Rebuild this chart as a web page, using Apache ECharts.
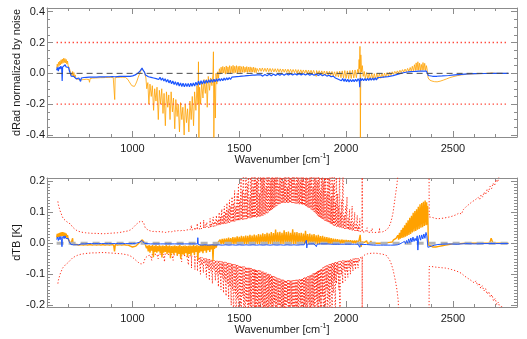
<!DOCTYPE html>
<html>
<head>
<meta charset="utf-8">
<script src="https://cdn.jsdelivr.net/npm/echarts@6/dist/echarts.min.js"></script>
<style>
  html, body { margin: 0; padding: 0; background: #ffffff; }
  #chart { width: 527px; height: 339px; }
</style>
</head>
<body>
<div id="chart"></div>
<script>
// ---- tick positions and labels ----
const wnMajorTicks = [1000, 1500, 2000, 2500];
const wnMinorTicks = [600, 700, 800, 900, 1000, 1100, 1200, 1300, 1400, 1500, 1600, 1700, 1800, 1900, 2000, 2100, 2200, 2300, 2400, 2500, 2600, 2700, 2800];
const dradMajorTicks = [-0.4, -0.2, 0.0, 0.2, 0.4];
const dradMinorTicks = [-0.4, -0.35, -0.3, -0.25, -0.2, -0.15, -0.1, -0.05, 0, 0.05, 0.1, 0.15, 0.2, 0.25, 0.3, 0.35, 0.4];
const dtbMajorTicks = [-0.2, -0.1, 0.0, 0.1, 0.2];
const dtbMinorTicks = [-0.2, -0.19, -0.18, -0.17, -0.16, -0.15, -0.14, -0.13, -0.12, -0.11, -0.1, -0.09, -0.08, -0.07, -0.06, -0.05, -0.04, -0.03, -0.02, -0.01, 0,
  0.01, 0.02, 0.03, 0.04, 0.05, 0.06, 0.07, 0.08, 0.09, 0.1, 0.11, 0.12, 0.13, 0.14, 0.15, 0.16, 0.17, 0.18, 0.19, 0.2];

// ---- reference levels ----
const noiseLevel = [0.2, -0.2];
const spectralRange = [645, 2760];

// ---- upper panel: radiance difference normalised by noise ----
const dradBlue = [
[645,0.02],[649,0.038],[653,0.015],[657,0.042],[661,0.028],[665,0.046],[669,0.03],[671,-0.05],[673,0.04],[677,0.052],[681,0.04],[685,0.056],[689,0.042],[693,0.052],[697,0.035],[701,0.038],[705,0.015],[709,0.0],[713,-0.018],[717,-0.01],[721,-0.026],[725,-0.02],[729,-0.032],[733,-0.026],[737,-0.036],[741,-0.028],[745,-0.038],[749,-0.03],[753,-0.036],[757,-0.052],[761,-0.03],[767,-0.036],[773,-0.027],[779,-0.034],[785,-0.026],[791,-0.033],[797,-0.025],[803,-0.032],[809,-0.025],[815,-0.031],[821,-0.024],[827,-0.03],[833,-0.024],[839,-0.03],[845,-0.023],[851,-0.029],[857,-0.022],[863,-0.03],[869,-0.023],[875,-0.028],[881,-0.022],[887,-0.029],[893,-0.022],[899,-0.028],[905,-0.021],[911,-0.027],[917,-0.022],[923,-0.028],[929,-0.021],[935,-0.027],[941,-0.02],[947,-0.026],[953,-0.02],[959,-0.026],[965,-0.019],[971,-0.026],[977,-0.02],[983,-0.027],[989,-0.02],[995,-0.025],[1001,-0.016],[1007,-0.02],[1013,-0.01],[1019,-0.012],[1025,0.0],[1031,0.008],[1037,0.018],[1041,0.022],[1045,0.035],[1049,0.022],[1053,0.03],[1057,0.006],[1061,-0.01],[1065,-0.02],[1069,-0.008],[1075,-0.022],[1081,-0.012],[1087,-0.026],[1093,-0.015],[1099,-0.03],[1105,-0.018],[1111,-0.034],[1117,-0.022],[1123,-0.04],[1129,-0.026],[1135,-0.045],[1141,-0.03],[1147,-0.05],[1153,-0.035],[1159,-0.056],[1165,-0.04],[1171,-0.062],[1177,-0.045],[1183,-0.068],[1189,-0.05],[1195,-0.072],[1201,-0.055],[1207,-0.078],[1213,-0.058],[1219,-0.082],[1225,-0.062],[1231,-0.085],[1237,-0.064],[1243,-0.088],[1249,-0.066],[1255,-0.086],[1261,-0.065],[1267,-0.088],[1273,-0.064],[1279,-0.084],[1285,-0.062],[1291,-0.082],[1297,-0.058],[1303,-0.078],[1309,-0.05],[1315,-0.074],[1321,-0.048],[1327,-0.07],[1333,-0.046],[1339,-0.066],[1345,-0.044],[1351,-0.063],[1357,-0.042],[1363,-0.06],[1369,-0.04],[1375,-0.058],[1381,-0.038],[1387,-0.055],[1393,-0.036],[1399,-0.052],[1405,-0.034],[1411,-0.05],[1417,-0.033],[1423,-0.048],[1429,-0.031],[1435,-0.045],[1441,-0.029],[1447,-0.042],[1453,-0.027],[1459,-0.04],[1465,-0.025],[1471,-0.037],[1477,-0.023],[1483,-0.035],[1489,-0.021],[1495,-0.033],[1501,-0.02],[1507,-0.031],[1513,-0.018],[1519,-0.03],[1525,-0.017],[1531,-0.028],[1537,-0.015],[1543,-0.027],[1549,-0.014],[1555,-0.025],[1561,-0.012],[1567,-0.024],[1573,-0.011],[1579,-0.022],[1585,-0.01],[1592,-0.02],[1600,-0.009],[1610,-0.018],[1620,-0.008],[1630,-0.016],[1640,-0.006],[1650,-0.015],[1660,-0.005],[1670,-0.014],[1680,-0.004],[1690,-0.013],[1700,-0.003],[1710,-0.012],[1720,-0.003],[1730,-0.011],[1740,-0.002],[1750,-0.011],[1760,-0.002],[1770,-0.01],[1780,-0.002],[1790,-0.01],[1800,-0.002],[1810,-0.011],[1820,-0.003],[1830,-0.012],[1840,-0.004],[1850,-0.013],[1860,-0.005],[1870,-0.014],[1880,-0.006],[1890,-0.016],[1900,-0.008],[1910,-0.018],[1920,-0.012],[1930,-0.022],[1940,-0.018],[1950,-0.03],[1958,-0.026],[1966,-0.04],[1972,-0.032],[1978,-0.048],[1984,-0.034],[1990,-0.052],[1996,-0.036],[2002,-0.055],[2008,-0.038],[2014,-0.056],[2020,-0.04],[2026,-0.055],[2032,-0.04],[2038,-0.054],[2044,-0.038],[2050,-0.052],[2056,-0.036],[2062,-0.05],[2064,-0.09],[2066,-0.03],[2070,-0.048],[2076,-0.034],[2082,-0.048],[2088,-0.033],[2094,-0.047],[2100,-0.032],[2106,-0.046],[2112,-0.031],[2118,-0.045],[2124,-0.03],[2130,-0.044],[2136,-0.029],[2142,-0.042],[2148,-0.028],[2154,-0.04],[2160,-0.027],[2166,-0.038],[2172,-0.025],[2178,-0.036],[2184,-0.023],[2190,-0.033],[2196,-0.021],[2202,-0.03],[2208,-0.018],[2214,-0.027],[2220,-0.015],[2226,-0.022],[2232,-0.01],[2238,-0.016],[2244,-0.005],[2250,-0.01],[2256,0.0],[2262,-0.005],[2268,0.004],[2274,-0.002],[2280,0.007],[2286,0.0],[2292,0.009],[2298,0.002],[2304,0.011],[2310,0.003],[2316,0.012],[2322,0.004],[2328,0.013],[2334,0.005],[2340,0.014],[2346,0.006],[2352,0.015],[2358,0.006],[2364,0.015],[2370,0.007],[2376,0.014],[2381,0.01],[2385,-0.014],[2392,-0.018],[2405,-0.019],[2425,-0.019],[2450,-0.017],[2480,-0.014],[2510,-0.01],[2540,-0.007],[2570,-0.004],[2600,-0.002],[2650,-0.001],[2700,0.0],[2760,0.0]
];

const dradOrange = [
[645,0.032],[648,0.06],[651,0.042],[654,0.072],[657,0.05],[660,0.08],[663,0.055],[666,0.088],[669,0.062],[672,0.092],[675,0.066],[678,0.098],[681,0.07],[684,0.096],[687,0.068],[690,0.09],[693,0.06],[696,0.08],[699,0.05],[702,0.06],[705,0.03],[708,0.035],[711,0.005],[714,0.01],[717,-0.015],[720,0.012],[723,-0.02],[726,0.005],[729,-0.03],[732,-0.01],[736,-0.035],[742,-0.03],[748,-0.04],[754,-0.033],[760,-0.042],[766,-0.034],[772,-0.04],[778,-0.032],[784,-0.038],[790,-0.033],[796,-0.04],[799,-0.058],[802,-0.034],[808,-0.038],[814,-0.031],[820,-0.037],[826,-0.03],[832,-0.036],[838,-0.029],[844,-0.035],[850,-0.028],[856,-0.034],[862,-0.028],[868,-0.033],[874,-0.027],[880,-0.033],[886,-0.027],[892,-0.032],[898,-0.026],[904,-0.032],[910,-0.027],[915,-0.03],[917,-0.17],[919,-0.028],[925,-0.032],[931,-0.026],[937,-0.031],[943,-0.026],[949,-0.03],[955,-0.025],[961,-0.03],[967,-0.026],[973,-0.034],[979,-0.04],[985,-0.055],[991,-0.065],[997,-0.08],[1003,-0.09],[1009,-0.085],[1015,-0.07],[1021,-0.05],[1027,-0.025],[1033,-0.005],[1039,0.015],[1043,0.03],[1047,0.02],[1051,0.032],[1055,0.012],[1059,0.022],
[1063,-0.03],[1067,-0.1],[1072,-0.06],[1077,-0.2],[1082,-0.07],[1088,-0.15],[1093,-0.08],[1099,-0.24],[1104,-0.1],[1110,-0.18],[1115,-0.09],[1121,-0.3],[1126,-0.11],[1132,-0.2],[1137,-0.1],[1143,-0.26],[1148,-0.13],[1154,-0.34],[1159,-0.12],[1165,-0.22],[1170,-0.14],[1176,-0.3],[1181,-0.12],[1187,-0.25],[1192,-0.16],[1198,-0.36],[1203,-0.17],[1209,-0.28],[1214,-0.2],[1220,-0.38],[1225,-0.19],[1231,-0.3],[1236,-0.22],[1242,-0.4],[1247,-0.2],[1253,-0.32],[1258,-0.23],[1264,-0.38],[1269,-0.18],[1275,-0.3],[1280,-0.15],[1286,-0.34],[1291,-0.12],[1297,-0.24],[1302,-0.08],[1307,-0.2],[1309,0.075],[1311,-0.42],[1314,-0.09],[1319,-0.2],[1324,-0.06],[1330,-0.16],[1335,-0.04],[1341,-0.13],[1346,-0.04],[1350,-0.22],[1355,-0.02],[1361,-0.11],[1366,-0.03],[1372,-0.08],[1377,0.0],[1379,0.14],[1381,-0.42],[1384,-0.04],[1388,-0.29],[1391,0.0],[1395,-0.07],[1399,0.01],[1403,-0.03],
[1407,0.03],[1411,-0.005],[1415,0.04],[1419,0.0],[1423,0.045],[1427,0.002],[1431,0.04],[1435,-0.005],[1439,0.048],[1443,0.0],[1447,0.042],[1451,0.003],[1455,0.05],[1459,-0.002],[1463,0.045],[1467,0.004],[1471,0.052],[1475,0.0],[1479,0.046],[1483,0.005],[1487,0.05],[1491,0.002],[1495,0.045],[1499,0.006],[1503,0.048],[1507,0.004],[1511,0.043],[1515,0.007],[1519,0.046],[1523,0.005],[1527,0.04],[1531,0.008],[1535,0.044],[1539,0.006],[1543,0.04],[1547,0.009],[1551,0.042],[1555,0.007],[1559,0.038],[1563,0.008],[1567,0.04],[1571,0.006],[1575,0.036],[1579,0.004],[1583,0.032],[1590,0.012],[1596,0.034],[1602,0.013],[1608,0.035],[1614,0.012],[1620,0.033],[1626,0.011],[1632,0.034],[1638,0.01],[1644,0.032],[1650,0.01],[1656,0.031],[1662,0.009],[1668,0.03],[1674,0.008],[1680,0.03],[1686,0.008],[1692,0.029],[1698,0.007],[1704,0.028],[1710,0.007],[1716,0.027],[1722,0.006],[1728,0.027],[1734,0.005],[1740,0.026],[1746,0.005],[1752,0.025],[1758,0.004],[1764,0.025],[1770,0.003],[1776,0.024],[1782,0.002],[1788,0.023],[1794,0.001],[1800,0.022],[1806,0.0],[1812,0.022],[1818,0.0],[1824,0.021],[1830,-0.002],[1836,0.02],[1842,-0.003],[1848,0.019],[1854,-0.004],[1860,-0.02],[1862,0.018],[1868,-0.005],[1874,0.017],[1880,-0.007],[1886,0.016],[1892,-0.008],[1898,0.015],[1904,-0.01],[1910,0.014],[1916,-0.012],[1922,0.013],[1928,-0.014],[1934,0.012],[1940,-0.017],[1946,0.01],[1952,-0.02],[1958,0.012],[1964,-0.024],[1970,0.014],[1976,-0.028],[1982,0.016],[1988,-0.03],[1994,0.018],[2000,-0.032],[2006,0.016],[2012,-0.034],[2018,0.018],[2024,-0.033],[2030,0.02],[2036,-0.03],[2042,0.022],[2048,-0.028],[2054,0.025],[2058,0.0],[2061,0.09],[2063,0.03],[2065,0.175],[2067,-0.42],[2069,0.12],[2072,0.01],[2076,0.05],[2080,-0.02],[2085,0.012],[2090,-0.035],[2096,0.005],[2102,-0.038],[2108,0.002],[2114,-0.04],[2120,0.0],[2126,-0.04],[2132,-0.002],[2138,-0.038],[2144,0.0],[2150,-0.035],[2156,-0.002],[2162,-0.032],[2168,0.0],[2174,-0.028],[2180,0.002],[2186,-0.024],[2192,0.004],[2198,-0.018],[2204,0.007],[2210,-0.012],[2216,0.01],[2222,-0.006],[2228,0.013],[2234,-0.002],[2240,0.016],[2246,0.002],[2252,0.02],[2258,0.005],[2264,0.024],[2270,0.008],[2276,0.028],[2282,0.01],[2288,0.032],[2294,0.012],[2300,0.038],[2305,0.014],[2310,0.046],[2315,0.016],[2320,0.056],[2324,0.018],[2328,0.068],[2332,0.02],[2336,0.075],[2340,0.02],[2344,0.066],[2348,0.018],[2352,0.058],[2356,0.02],[2360,0.07],[2364,0.022],[2368,0.065],[2372,0.018],[2376,0.05],[2380,0.02],[2384,-0.03],[2392,-0.044],[2402,-0.05],[2414,-0.054],[2426,-0.055],[2440,-0.051],[2455,-0.044],[2470,-0.036],[2485,-0.028],[2500,-0.022],[2520,-0.015],[2540,-0.01],[2565,-0.006],[2600,-0.003],[2640,-0.001],[2672,0.001],[2678,0.013],[2684,0.003],[2700,0.0],[2760,0.0]
];

// ---- lower panel: brightness temperature differences [K] ----
const dtbBlue = [
[645,0.012],[649,0.02],[653,0.009],[657,0.021],[661,0.011],[665,0.022],[668,0.012],[670,-0.011],[672,0.016],[676,0.023],[680,0.015],[684,0.024],[688,0.016],[692,0.022],[696,0.013],[700,0.015],[704,0.005],[708,0.002],[712,-0.004],[718,-0.001],[724,-0.005],[730,-0.002],[736,-0.005],[742,-0.002],[748,-0.005],[754,-0.001],[757,-0.009],[760,-0.002],[768,-0.005],[776,-0.002],[784,-0.005],[792,-0.001],[800,-0.004],[808,-0.001],[816,-0.004],[824,-0.001],[832,-0.004],[840,-0.001],[848,-0.004],[856,-0.001],[864,-0.004],[872,-0.001],[880,-0.004],[888,-0.001],[896,-0.004],[904,-0.001],[912,-0.004],[920,-0.001],[928,-0.004],[936,-0.001],[944,-0.004],[952,-0.001],[960,-0.004],[968,-0.001],[976,-0.004],[984,-0.001],[992,-0.004],[1000,-0.001],[1008,-0.004],[1016,0.0],[1024,-0.002],[1032,0.003],[1038,0.002],[1044,0.009],[1048,0.005],[1052,0.008],[1056,0.0],[1060,-0.004],[1068,-0.001],[1076,-0.005],[1084,-0.002],[1092,-0.005],[1100,-0.002],[1108,-0.005],[1116,-0.002],[1124,-0.006],[1132,-0.002],[1140,-0.005],[1148,-0.002],[1156,-0.006],[1164,-0.002],[1172,-0.005],[1180,-0.002],[1188,-0.006],[1196,-0.002],[1204,-0.005],[1212,-0.002],[1220,-0.006],[1228,-0.002],[1236,-0.005],[1244,-0.002],[1252,-0.006],[1260,-0.002],[1268,-0.005],[1276,-0.002],[1284,-0.006],[1292,-0.002],[1300,-0.005],[1304,-0.002],[1306,0.018],[1308,-0.004],[1316,-0.002],[1324,-0.006],[1332,-0.002],[1340,-0.005],[1348,-0.002],[1356,-0.006],[1364,-0.002],[1372,-0.005],[1380,-0.002],[1388,-0.006],[1396,-0.002],[1404,-0.005],[1412,-0.002],[1420,-0.006],[1428,-0.002],[1436,-0.005],[1444,-0.002],[1452,-0.006],[1460,-0.002],[1468,-0.005],[1476,-0.002],[1484,-0.006],[1492,-0.002],[1500,-0.005],[1508,-0.002],[1516,-0.006],[1524,-0.002],[1532,-0.005],[1540,-0.002],[1548,-0.006],[1556,-0.002],[1564,-0.005],[1572,-0.002],[1580,-0.006],[1588,-0.002],[1596,-0.005],[1604,-0.002],[1612,-0.006],[1620,-0.002],[1628,-0.005],[1636,-0.002],[1644,-0.006],[1652,-0.002],[1660,-0.005],[1668,-0.002],[1676,-0.006],[1684,-0.002],[1692,-0.005],[1700,-0.002],[1708,-0.006],[1716,-0.002],[1724,-0.005],[1732,-0.002],[1740,-0.006],[1748,-0.002],[1756,-0.005],[1764,-0.002],[1772,-0.006],[1780,-0.002],[1788,-0.005],[1796,-0.002],[1804,-0.005],[1812,-0.002],[1814,0.01],[1816,-0.015],[1818,-0.003],[1826,-0.005],[1834,-0.002],[1842,-0.006],[1850,-0.002],[1858,-0.005],[1861,-0.011],[1864,-0.003],[1872,-0.005],[1880,-0.002],[1888,-0.006],[1896,-0.002],[1904,-0.005],[1912,-0.002],[1920,-0.006],[1928,-0.003],[1936,-0.006],[1944,-0.003],[1952,-0.006],[1960,-0.003],[1968,-0.006],[1976,-0.003],[1984,-0.006],[1992,-0.003],[2000,-0.006],[2008,-0.003],[2016,-0.006],[2024,-0.003],[2032,-0.006],[2040,-0.003],[2048,-0.006],[2056,-0.003],[2062,-0.006],[2064,-0.013],[2066,-0.003],[2072,-0.006],[2080,-0.004],[2088,-0.007],[2096,-0.004],[2104,-0.008],[2112,-0.005],[2120,-0.009],[2128,-0.006],[2136,-0.009],[2144,-0.006],[2152,-0.01],[2160,-0.006],[2168,-0.01],[2176,-0.006],[2184,-0.01],[2192,-0.006],[2200,-0.01],[2208,-0.006],[2216,-0.01],[2224,-0.006],[2232,-0.009],[2240,-0.005],[2246,-0.007],[2252,-0.002],[2258,-0.005],[2263,0.002],[2268,-0.003],[2273,0.006],[2278,-0.001],[2283,0.009],[2288,0.0],[2293,0.014],[2298,0.002],[2303,0.017],[2308,0.004],[2313,0.02],[2318,0.006],[2323,0.016],[2328,0.008],[2333,0.024],[2336,-0.022],[2339,0.01],[2344,0.026],[2349,0.01],[2354,0.027],[2359,0.014],[2364,0.03],[2369,0.016],[2374,0.035],[2378,0.024],[2381,0.03],[2383,-0.013],[2390,-0.012],[2400,-0.009],[2415,-0.006],[2430,-0.004],[2450,-0.003],[2480,-0.002],[2520,-0.003],[2560,-0.001],[2600,-0.002],[2650,-0.001],[2700,-0.001],[2760,-0.001]
];

const dtbOrange = [
[645,0.018],[648,0.03],[651,0.02],[654,0.032],[657,0.021],[660,0.034],[663,0.022],[666,0.035],[669,0.023],[672,0.036],[675,0.024],[678,0.035],[681,0.023],[684,0.034],[687,0.021],[690,0.031],[693,0.018],[696,0.026],[699,0.014],[702,0.018],[705,0.006],[708,0.006],[711,-0.003],[714,0.0],[717,-0.005],[720,0.016],[722,-0.004],[730,-0.006],[740,-0.004],[750,-0.006],[760,-0.004],[770,-0.006],[780,-0.004],[790,-0.006],[799,-0.012],[802,-0.004],[812,-0.006],[822,-0.004],[832,-0.006],[842,-0.004],[852,-0.006],[862,-0.004],[872,-0.006],[882,-0.004],[892,-0.006],[902,-0.004],[912,-0.006],[916,-0.026],[920,-0.004],[930,-0.006],[940,-0.004],[950,-0.006],[960,-0.004],[970,-0.006],[980,-0.006],[990,-0.009],[1000,-0.012],[1008,-0.013],[1016,-0.009],[1024,-0.004],[1032,0.002],[1040,0.008],[1046,0.011],[1050,0.006],[1054,0.009],[1058,0.0],[1062,-0.006],[1066,-0.016],[1070,-0.008],[1074,-0.026],[1078,-0.006],[1082,-0.03],[1086,-0.008],[1090,-0.024],[1094,-0.006],[1098,-0.045],[1102,-0.008],[1106,-0.028],[1110,-0.006],[1114,-0.03],[1118,-0.009],[1122,-0.026],[1126,-0.007],[1130,-0.032],[1134,-0.008],[1138,-0.046],[1142,-0.007],[1146,-0.03],[1150,-0.009],[1154,-0.028],[1158,-0.006],[1162,-0.034],[1166,-0.008],[1170,-0.03],[1174,-0.007],[1178,-0.048],[1182,-0.009],[1186,-0.032],[1190,-0.008],[1194,-0.036],[1198,-0.007],[1202,-0.03],[1206,-0.009],[1210,-0.04],[1214,-0.008],[1218,-0.034],[1222,-0.006],[1226,-0.05],[1230,-0.009],[1234,-0.036],[1238,-0.008],[1242,-0.038],[1246,-0.007],[1250,-0.032],[1254,-0.009],[1258,-0.044],[1262,-0.008],[1266,-0.034],[1270,-0.007],[1274,-0.04],[1278,-0.008],[1282,-0.03],[1286,-0.006],[1290,-0.038],[1294,-0.008],[1298,-0.028],[1302,-0.006],[1306,-0.053],[1310,-0.008],[1314,-0.03],[1318,-0.006],[1322,-0.026],[1326,-0.005],[1330,-0.032],[1334,-0.006],[1338,-0.024],[1342,-0.005],[1346,-0.03],[1350,-0.006],[1354,-0.022],[1358,-0.004],[1362,-0.028],[1366,-0.005],[1370,-0.02],[1374,-0.004],[1377,-0.056],[1380,-0.004],[1384,-0.018],[1388,-0.003],[1392,-0.014],[1396,-0.002],[1400,-0.008],[1405,0.0],[1410,0.012],[1415,-0.003],[1420,0.014],[1425,-0.002],[1430,0.015],[1435,-0.003],[1440,0.016],[1445,-0.002],[1450,0.018],[1455,-0.003],[1460,0.017],[1465,-0.002],[1470,0.02],[1475,-0.003],[1480,0.019],[1485,-0.002],[1490,0.022],[1495,-0.003],[1500,0.021],[1505,-0.002],[1510,0.024],[1515,-0.003],[1520,0.022],[1525,-0.002],[1530,0.025],[1535,-0.003],[1540,0.024],[1545,-0.002],[1550,0.027],[1555,-0.003],[1560,0.025],[1565,-0.002],[1570,0.028],[1575,-0.003],[1580,0.026],[1585,-0.002],[1590,0.03],[1595,-0.003],[1600,0.028],[1605,-0.002],[1610,0.032],[1615,-0.003],[1620,0.03],[1625,-0.002],[1630,0.034],[1635,-0.003],[1640,0.031],[1645,-0.002],[1650,0.036],[1655,-0.003],[1660,0.033],[1665,-0.002],[1670,0.044],[1675,-0.003],[1680,0.035],[1685,-0.002],[1690,0.037],[1695,-0.003],[1700,0.034],[1705,-0.002],[1710,0.042],[1715,-0.003],[1720,0.036],[1725,-0.002],[1730,0.038],[1735,-0.003],[1740,0.034],[1745,-0.002],[1750,0.045],[1755,-0.003],[1760,0.035],[1765,-0.002],[1770,0.036],[1775,-0.003],[1780,0.033],[1785,-0.002],[1790,0.034],[1795,-0.003],[1800,0.031],[1805,-0.002],[1810,0.04],[1815,-0.003],[1820,0.03],[1825,-0.002],[1830,0.031],[1835,-0.003],[1840,0.028],[1845,-0.002],[1850,0.03],[1855,-0.003],[1860,0.026],[1865,-0.002],[1870,0.027],[1875,-0.003],[1880,0.023],[1885,-0.002],[1890,0.024],[1895,-0.003],[1900,0.021],[1905,-0.002],[1910,0.02],[1915,-0.003],[1920,0.018],[1925,-0.002],[1930,0.017],[1935,-0.002],[1940,0.015],[1945,-0.002],[1950,0.014],[1955,-0.001],[1960,0.013],[1965,-0.001],[1970,0.012],[1975,-0.001],[1980,0.012],[1985,0.0],[1990,0.011],[1995,0.0],[2000,0.011],[2005,0.0],[2010,0.01],[2015,0.0],[2020,0.01],[2025,0.0],[2030,0.009],[2035,0.0],[2040,0.009],[2045,0.0],[2050,0.009],[2055,0.0],[2060,0.008],[2066,0.027],[2070,-0.012],[2074,0.004],[2080,0.0],[2086,0.003],[2092,0.0],[2096,0.008],[2100,0.0],[2106,0.003],[2112,0.0],[2116,0.007],[2120,0.0],[2126,0.003],[2132,0.0],[2138,0.003],[2144,0.0],[2150,0.003],[2156,0.0],[2162,0.003],[2168,0.0],[2174,0.003],[2180,0.001],[2186,0.004],[2192,0.002],[2198,0.006],[2204,0.003],[2210,0.008],[2216,0.004],[2222,0.011],[2228,0.006],[2234,0.016],[2238,0.01],[2242,0.026],[2246,0.012],[2250,0.034],[2254,0.015],[2258,0.043],[2262,0.017],[2266,0.05],[2270,0.019],[2274,0.058],[2278,0.021],[2282,0.066],[2286,0.024],[2290,0.074],[2294,0.027],[2298,0.082],[2302,0.03],[2306,0.089],[2310,0.035],[2314,0.098],[2318,0.038],[2322,0.104],[2326,0.04],[2330,0.11],[2334,0.044],[2338,0.118],[2342,0.046],[2346,0.126],[2350,0.05],[2354,0.13],[2358,0.052],[2362,0.134],[2366,0.056],[2370,0.138],[2374,0.058],[2377,0.132],[2380,0.06],[2382,0.12],[2385,-0.005],[2392,-0.011],[2405,-0.012],[2420,-0.012],[2435,-0.01],[2450,-0.008],[2465,-0.006],[2480,-0.004],[2500,-0.002],[2530,-0.001],[2560,0.0],[2600,0.0],[2640,0.0],[2672,0.0],[2679,0.016],[2686,0.003],[2700,0.0],[2760,0.0]
];

// noise-equivalent dTB envelopes: [wavenumber, level] or [wavenumber, level, channel spike]
const dtbNoiseHi = [
[651,0.135],[653,0.125],[655,0.128],[657,0.115],[659,0.118],[661,0.105],[664,0.1],[667,0.095],[670,0.088],[673,0.085],[676,0.08],[680,0.078],[684,0.074],[688,0.072],[692,0.07],[696,0.068],[700,0.066],[705,0.064],[710,0.062],[715,0.058],[720,0.052],[725,0.048],[730,0.046],[736,0.042],[742,0.04],[750,0.038],[760,0.036],[770,0.035],[780,0.034],[795,0.033],[810,0.032],[830,0.032],[850,0.031],[870,0.031],[890,0.032],[910,0.033],[930,0.034],[950,0.036],[965,0.038],[980,0.04],[990,0.043],[1000,0.048],[1008,0.054],[1016,0.06],[1024,0.064],[1030,0.068],[1036,0.066],[1040,0.072],[1044,0.07],[1048,0.074],[1052,0.068],[1056,0.058],[1060,0.05],[1066,0.044],[1074,0.042],[1084,0.04],[1094,0.038],[1104,0.039],[1114,0.037],[1124,0.038],[1134,0.036],[1144,0.037],[1154,0.035],[1164,0.036],[1174,0.038],[1184,0.037],[1194,0.04],[1204,0.039],[1214,0.041],[1224,0.04],[1234,0.042],[1244,0.041],[1254,0.043],[1262,0.042],[1270,0.044],
[1276,0.043,0.058],[1284,0.044],[1292,0.045,0.052],[1298,0.045],[1303,0.046,0.064],[1310,0.047],[1318,0.047,0.07],[1325,0.048],[1333,0.049,0.075],[1340,0.05,0.06],[1348,0.05,0.068],[1355,0.051],[1363,0.052,0.08],[1370,0.053,0.062],[1378,0.054,0.085],[1385,0.055,0.07],[1393,0.056,0.09],[1400,0.057,0.075],[1406,0.058,0.1],[1412,0.059,0.085],[1418,0.06,0.11],[1424,0.061,0.09],[1430,0.062,0.12],[1436,0.063,0.1],[1442,0.064,0.13],[1448,0.065,0.11],[1454,0.066,0.14],[1460,0.067,0.12],[1466,0.068,0.15],[1472,0.069,0.13],[1478,0.07,0.17],[1484,0.071,0.12],[1490,0.072,0.16],[1496,0.073,0.19],[1502,0.074,0.14],[1508,0.075,0.21],[1514,0.076,0.17],[1520,0.077,0.3],[1526,0.078,0.16],[1532,0.078,0.3],[1538,0.079,0.19],[1544,0.08,0.3],[1550,0.081,0.15],[1555,0.081,0.3],[1560,0.082,0.3],[1565,0.083,0.18],[1570,0.083,0.3],[1575,0.084,0.3],[1580,0.084,0.2],[1585,0.085,0.3],[1590,0.085,0.3],[1595,0.086,0.16],[1600,0.087,0.3],[1605,0.088,0.3],[1610,0.089,0.22],[1615,0.091,0.3],[1620,0.093,0.3],[1625,0.095,0.18],[1630,0.097,0.3],[1635,0.1,0.3],[1640,0.102,0.3],[1645,0.105,0.2],[1650,0.108,0.3],[1655,0.11,0.3],[1660,0.113,0.3],[1665,0.116,0.21],[1670,0.119,0.3],[1675,0.121,0.3],[1680,0.123,0.3],[1685,0.125,0.19],[1690,0.127,0.3],[1695,0.128,0.3],[1700,0.129,0.3],[1705,0.13,0.2],[1710,0.131,0.3],[1715,0.131,0.3],[1720,0.131,0.3],[1725,0.131,0.18],[1730,0.131,0.3],[1735,0.131,0.3],[1740,0.13,0.3],[1745,0.13,0.21],[1750,0.13,0.3],[1755,0.13,0.3],[1760,0.129,0.3],[1765,0.128,0.19],[1770,0.128,0.3],[1775,0.127,0.3],[1780,0.126,0.3],[1785,0.126,0.2],[1790,0.125,0.3],[1795,0.124,0.3],[1800,0.123,0.3],[1805,0.122,0.19],[1810,0.12,0.3],[1815,0.118,0.3],[1820,0.116,0.3],[1825,0.114,0.2],[1830,0.112,0.3],[1835,0.11,0.3],[1840,0.107,0.3],[1845,0.104,0.18],[1850,0.101,0.3],[1855,0.098,0.3],[1860,0.094,0.3],[1865,0.09,0.2],[1870,0.087,0.3],[1875,0.084,0.3],[1880,0.081,0.17],[1885,0.079,0.3],[1890,0.077,0.3],[1895,0.075,0.2],[1900,0.073,0.3],[1905,0.071,0.3],[1910,0.069,0.16],[1915,0.067,0.3],[1920,0.065,0.21],[1925,0.063,0.3],[1930,0.061,0.15],[1935,0.06,0.3],[1940,0.058,0.19],[1945,0.057,0.3],[1950,0.055,0.13],[1955,0.054,0.3],[1960,0.053,0.16],[1965,0.052,0.12],[1970,0.051,0.3],[1975,0.05,0.1],[1980,0.049,0.14],[1986,0.048,0.3],[1992,0.047,0.09],[1998,0.046,0.12],[2004,0.045,0.15],[2010,0.044,0.08],[2016,0.043,0.11],[2022,0.042,0.07],[2028,0.041,0.12],[2034,0.041,0.065],[2040,0.04,0.1],[2046,0.04,0.06],[2052,0.039,0.09],[2058,0.039,0.055],[2064,0.038,0.08],[2070,0.038],[2075,0.037,0.3],[2080,0.037],[2090,0.036],[2098,0.036,0.05],[2106,0.036],[2114,0.035],[2122,0.035,0.048],[2130,0.035],[2140,0.035],[2148,0.036],[2156,0.036,0.05],[2164,0.036],[2172,0.037],[2182,0.04],[2190,0.042],[2196,0.048],[2202,0.055],[2208,0.065],[2214,0.08],[2220,0.1],[2226,0.13],[2232,0.16],[2238,0.19],[2244,0.23],[2250,0.3],[2388,0.3],[2389,0.085],[2400,0.084],[2410,0.082],[2420,0.08],[2430,0.079],[2440,0.08],[2455,0.081],[2470,0.083],[2485,0.085],[2500,0.088],[2515,0.092],[2530,0.098],[2540,0.094],[2548,0.108],[2555,0.102],[2562,0.118],[2569,0.112],[2576,0.126],[2583,0.12],[2590,0.134],[2597,0.128],[2604,0.14],[2611,0.134],[2618,0.148],[2625,0.141],[2632,0.156],[2639,0.149],[2646,0.165],[2653,0.157],[2660,0.174],[2667,0.166],[2674,0.184],[2681,0.176],[2688,0.194],[2695,0.186],[2702,0.205],[2709,0.197],[2716,0.216],[2724,0.225]
];

const dtbNoiseLo = [
[651,-0.13],[653,-0.12],[655,-0.125],[657,-0.11],[659,-0.113],[661,-0.1],[664,-0.095],[667,-0.09],[670,-0.085],[673,-0.08],[676,-0.077],[680,-0.074],[684,-0.071],[688,-0.069],[692,-0.067],[696,-0.064],[700,-0.062],[705,-0.058],[710,-0.054],[715,-0.05],[720,-0.047],[725,-0.045],[730,-0.043],[736,-0.041],[742,-0.039],[750,-0.037],[760,-0.035],[770,-0.034],[780,-0.033],[795,-0.032],[810,-0.031],[830,-0.031],[850,-0.03],[870,-0.03],[890,-0.031],[910,-0.032],[930,-0.033],[950,-0.034],[965,-0.036],[980,-0.038],[990,-0.041],[1000,-0.045],[1008,-0.05],[1016,-0.055],[1024,-0.06],[1030,-0.063],[1036,-0.06],[1040,-0.067],[1044,-0.062],[1048,-0.07],[1052,-0.064],[1056,-0.055],[1060,-0.047],[1066,-0.042],[1074,-0.04],[1084,-0.038],[1090,-0.037,-0.055],[1100,-0.036],[1114,-0.035],[1120,-0.035,-0.05],[1130,-0.034],[1144,-0.035],[1150,-0.035,-0.06],[1160,-0.035],[1174,-0.036],[1184,-0.036],[1190,-0.037,-0.055],[1200,-0.037],[1214,-0.038],[1224,-0.038],[1230,-0.039,-0.06],[1240,-0.039],[1254,-0.04],
[1262,-0.04,-0.07],[1270,-0.041],[1276,-0.041,-0.08],[1284,-0.042],[1292,-0.042,-0.085],[1298,-0.043],[1304,-0.043,-0.09],[1311,-0.044,-0.06],[1318,-0.045,-0.1],[1325,-0.046,-0.07],[1332,-0.047,-0.095],[1339,-0.048,-0.065],[1346,-0.049,-0.11],[1353,-0.05,-0.08],[1360,-0.051,-0.12],[1367,-0.052,-0.09],[1374,-0.053,-0.13],[1381,-0.054,-0.085],[1388,-0.055,-0.12],[1395,-0.056,-0.1],[1402,-0.056,-0.14],[1408,-0.057,-0.1],[1414,-0.058,-0.15],[1420,-0.059,-0.11],[1426,-0.06,-0.16],[1432,-0.06,-0.12],[1438,-0.061,-0.17],[1444,-0.062,-0.13],[1450,-0.063,-0.18],[1456,-0.064,-0.14],[1462,-0.065,-0.2],[1468,-0.066,-0.15],[1474,-0.067,-0.3],[1480,-0.068,-0.16],[1486,-0.069,-0.3],[1492,-0.07,-0.18],[1498,-0.071,-0.3],[1504,-0.072,-0.2],[1510,-0.073,-0.3],[1516,-0.074,-0.17],[1522,-0.075,-0.3],[1528,-0.076,-0.3],[1534,-0.077,-0.19],[1540,-0.077,-0.3],[1545,-0.078,-0.3],[1550,-0.079,-0.2],[1555,-0.08,-0.3],[1560,-0.081,-0.3],[1565,-0.082,-0.18],[1570,-0.083,-0.3],[1575,-0.084,-0.3],[1580,-0.085,-0.3],[1585,-0.086,-0.2],[1590,-0.087,-0.3],[1595,-0.088,-0.3],[1600,-0.089,-0.3],[1605,-0.09,-0.19],[1610,-0.091,-0.3],[1615,-0.092,-0.3],[1620,-0.094,-0.3],[1625,-0.095,-0.21],[1630,-0.097,-0.3],[1635,-0.098,-0.3],[1640,-0.1,-0.3],[1645,-0.101,-0.2],[1650,-0.103,-0.3],[1655,-0.105,-0.3],[1660,-0.106,-0.3],[1665,-0.108,-0.19],[1670,-0.11,-0.3],[1675,-0.111,-0.3],[1680,-0.113,-0.3],[1685,-0.114,-0.2],[1690,-0.115,-0.3],[1695,-0.116,-0.3],[1700,-0.117,-0.3],[1705,-0.118,-0.21],[1710,-0.118,-0.3],[1715,-0.119,-0.3],[1720,-0.12,-0.3],[1725,-0.12,-0.19],[1730,-0.12,-0.3],[1735,-0.12,-0.3],[1740,-0.12,-0.3],[1745,-0.12,-0.2],[1750,-0.12,-0.3],[1755,-0.119,-0.3],[1760,-0.119,-0.3],[1765,-0.118,-0.21],[1770,-0.118,-0.3],[1775,-0.117,-0.3],[1780,-0.116,-0.3],[1785,-0.115,-0.19],[1790,-0.114,-0.3],[1795,-0.113,-0.3],[1800,-0.112,-0.3],[1805,-0.111,-0.2],[1810,-0.11,-0.3],[1815,-0.108,-0.3],[1820,-0.107,-0.3],[1825,-0.105,-0.19],[1830,-0.103,-0.3],[1835,-0.101,-0.3],[1840,-0.099,-0.3],[1845,-0.097,-0.2],[1850,-0.095,-0.3],[1855,-0.093,-0.3],[1860,-0.091,-0.18],[1865,-0.089,-0.3],[1870,-0.087,-0.3],[1875,-0.085,-0.19],[1880,-0.083,-0.3],[1885,-0.081,-0.3],[1890,-0.079,-0.17],[1895,-0.077,-0.3],[1900,-0.075,-0.2],[1905,-0.073,-0.3],[1910,-0.071,-0.15],[1915,-0.07,-0.3],[1920,-0.068,-0.18],[1925,-0.067,-0.3],[1930,-0.065,-0.14],[1935,-0.064,-0.3],[1940,-0.063,-0.16],[1945,-0.062,-0.12],[1950,-0.061,-0.3],[1955,-0.06,-0.13],[1960,-0.059,-0.1],[1966,-0.058,-0.15],[1972,-0.057,-0.3],[1978,-0.056,-0.1],[1984,-0.055,-0.13],[1990,-0.055,-0.085],[1996,-0.054,-0.12],[2002,-0.054,-0.09],[2008,-0.053,-0.11],[2014,-0.053,-0.08],[2020,-0.052,-0.1],[2026,-0.051,-0.075],[2032,-0.05,-0.09],[2038,-0.05,-0.07],[2044,-0.049,-0.085],[2050,-0.049,-0.065],[2056,-0.048,-0.08],[2062,-0.048,-0.06],[2068,-0.046],[2075,-0.044,-0.3],[2080,-0.04],[2090,-0.036],[2100,-0.034],[2110,-0.033],[2120,-0.032],[2130,-0.032],[2140,-0.032],[2150,-0.033],[2160,-0.034],[2170,-0.035],[2180,-0.037],[2190,-0.04],[2196,-0.045],[2202,-0.052],[2208,-0.06],[2214,-0.072],[2220,-0.086],[2226,-0.105],[2232,-0.125],[2238,-0.15],[2244,-0.185],[2250,-0.3],[2388,-0.3],[2389,-0.075],[2400,-0.075],[2410,-0.076],[2420,-0.077],[2435,-0.078],[2450,-0.079],[2465,-0.08],[2480,-0.082],[2495,-0.085],[2510,-0.088],[2525,-0.092],[2540,-0.097],[2548,-0.093],[2555,-0.106],[2562,-0.1],[2570,-0.113],[2578,-0.107],[2585,-0.12],[2593,-0.114],[2600,-0.128],[2608,-0.121],[2615,-0.136],[2623,-0.129],[2630,-0.145],[2638,-0.137],[2645,-0.154],[2653,-0.146],[2660,-0.164],[2668,-0.156],[2675,-0.174],[2683,-0.166],[2690,-0.186],[2698,-0.178],[2705,-0.198],[2713,-0.19],[2720,-0.21],[2728,-0.203],[2735,-0.222],[2745,-0.232]
];

// ---- styling ----
const FONT = '"Liberation Sans", Arial, Helvetica, sans-serif';
const AXIS_COLOR = '#8c8c8c';
const TEXT_COLOR = '#1a1a1a';
const ORANGE = '#ffa100';
const BLUE = '#1b55ff';
const RED = '#ff2a16';

const wnName = '{t|Wavenumber [cm}{s|-1}{t|]}';
const nameRich = {
  t: { fontSize: 11, fontFamily: FONT, color: TEXT_COLOR, lineHeight: 14 },
  s: { fontSize: 7, fontFamily: FONT, color: TEXT_COLOR, lineHeight: 14, verticalAlign: 'top', padding: [0, 0, 4, 0] }
};

// envelope readings -> polyline: each channel spike is drawn as a vertical excursion
function envelopeLine(rows) {
  const out = [];
  rows.forEach(r => {
    out.push([r[0], r[1]]);
    if (r.length > 2) { out.push([r[0] + 0.4, r[2]]); out.push([r[0] + 0.8, r[1]]); }
  });
  return out;
}

function xAxesFor(grid) {
  const base = { type: 'value', gridIndex: grid, min: 600, max: 2800, splitLine: { show: false } };
  const line = { show: true, onZero: false, lineStyle: { color: AXIS_COLOR, width: 1 } };
  const noLine = { show: false, onZero: false };
  const tick = (vals, len) => ({ show: true, inside: true, length: len, customValues: vals, lineStyle: { color: AXIS_COLOR, width: 1 } });
  return [
    Object.assign({}, base, {
      position: 'bottom', axisLine: line, axisTick: tick(wnMajorTicks, 6),
      axisLabel: { show: true, customValues: wnMajorTicks, margin: 6, fontSize: 11, fontFamily: FONT, color: TEXT_COLOR, formatter: v => String(v) },
      name: wnName, nameLocation: 'middle', nameGap: 16, nameMoveOverlap: false, nameTextStyle: { rich: nameRich }
    }),
    Object.assign({}, base, { position: 'bottom', axisLine: noLine, axisTick: tick(wnMinorTicks, 3), axisLabel: { show: false } }),
    Object.assign({}, base, { position: 'top', axisLine: line, axisTick: tick(wnMajorTicks, 6), axisLabel: { show: false } }),
    Object.assign({}, base, { position: 'top', axisLine: noLine, axisTick: tick(wnMinorTicks, 3), axisLabel: { show: false } })
  ];
}

function yAxesFor(grid, min, max, major, minor, name) {
  const base = { type: 'value', gridIndex: grid, min: min, max: max, splitLine: { show: false } };
  const line = { show: true, onZero: false, lineStyle: { color: AXIS_COLOR, width: 1 } };
  const noLine = { show: false, onZero: false };
  const tick = (vals, len) => ({ show: true, inside: true, length: len, customValues: vals, lineStyle: { color: AXIS_COLOR, width: 1 } });
  return [
    Object.assign({}, base, {
      position: 'left', axisLine: line, axisTick: tick(major, 6),
      axisLabel: { show: true, customValues: major, margin: 2, fontSize: 11, fontFamily: FONT, color: TEXT_COLOR,
        formatter: v => (Math.abs(v) < 1e-9 ? 0 : v).toFixed(1) },
      name: name, nameLocation: 'middle', nameGap: 25, nameMoveOverlap: false,
      nameTextStyle: { fontSize: 11, fontFamily: FONT, color: TEXT_COLOR }
    }),
    Object.assign({}, base, { position: 'left', axisLine: noLine, axisTick: tick(minor, 3), axisLabel: { show: false } }),
    Object.assign({}, base, { position: 'right', axisLine: line, axisTick: tick(major, 6), axisLabel: { show: false } }),
    Object.assign({}, base, { position: 'right', axisLine: noLine, axisTick: tick(minor, 3), axisLabel: { show: false } })
  ];
}

function lineSeries(axis, data, color, width, dash, z) {
  return {
    type: 'line', xAxisIndex: axis, yAxisIndex: axis, data: data,
    showSymbol: false, symbol: 'none', silent: true, animation: false, z: z,
    lineStyle: { color: color, width: width, type: dash || 'solid' }
  };
}

function levelLine(value) {
  return [[spectralRange[0], value], [spectralRange[1], value]];
}

const option = {
  backgroundColor: '#ffffff',
  animation: false,
  grid: [
    { left: 47, top: 8, width: 470, height: 129, containLabel: false, outerBoundsMode: 'none' },
    { left: 47, top: 178, width: 470, height: 129, containLabel: false, outerBoundsMode: 'none' }
  ],
  xAxis: xAxesFor(0).concat(xAxesFor(1)),
  yAxis: yAxesFor(0, -0.413, 0.424, dradMajorTicks, dradMinorTicks, 'dRad normalized by noise')
    .concat(yAxesFor(1, -0.2056, 0.2106, dtbMajorTicks, dtbMinorTicks, 'dTB [K]')),
  series: [
    // upper panel
    lineSeries(0, dradOrange, ORANGE, 0.8, 'solid', 2),
    lineSeries(0, dradBlue, BLUE, 1.2, 'solid', 3),
    lineSeries(0, levelLine(0), '#4a4a4a', 1, [6, 4], 4),
    lineSeries(0, levelLine(noiseLevel[0]), '#ff3a2a', 1.3, [1.3, 2.7], 4),
    lineSeries(0, levelLine(noiseLevel[1]), '#ff3a2a', 1.3, [1.3, 2.7], 4),
    // lower panel
    lineSeries(4, envelopeLine(dtbNoiseHi), RED, 1, [1.2, 2], 2),
    lineSeries(4, envelopeLine(dtbNoiseLo), RED, 1, [1.2, 2], 2),
    lineSeries(4, dtbOrange, ORANGE, 1.4, 'solid', 3),
    lineSeries(4, levelLine(0), '#b3b3b3', 3, [7, 5], 4),
    lineSeries(4, dtbBlue, BLUE, 1, 'solid', 5)
  ]
};

const chart = echarts.init(document.getElementById('chart'), null, { renderer: 'canvas' });
chart.setOption(option);
</script>
</body>
</html>
